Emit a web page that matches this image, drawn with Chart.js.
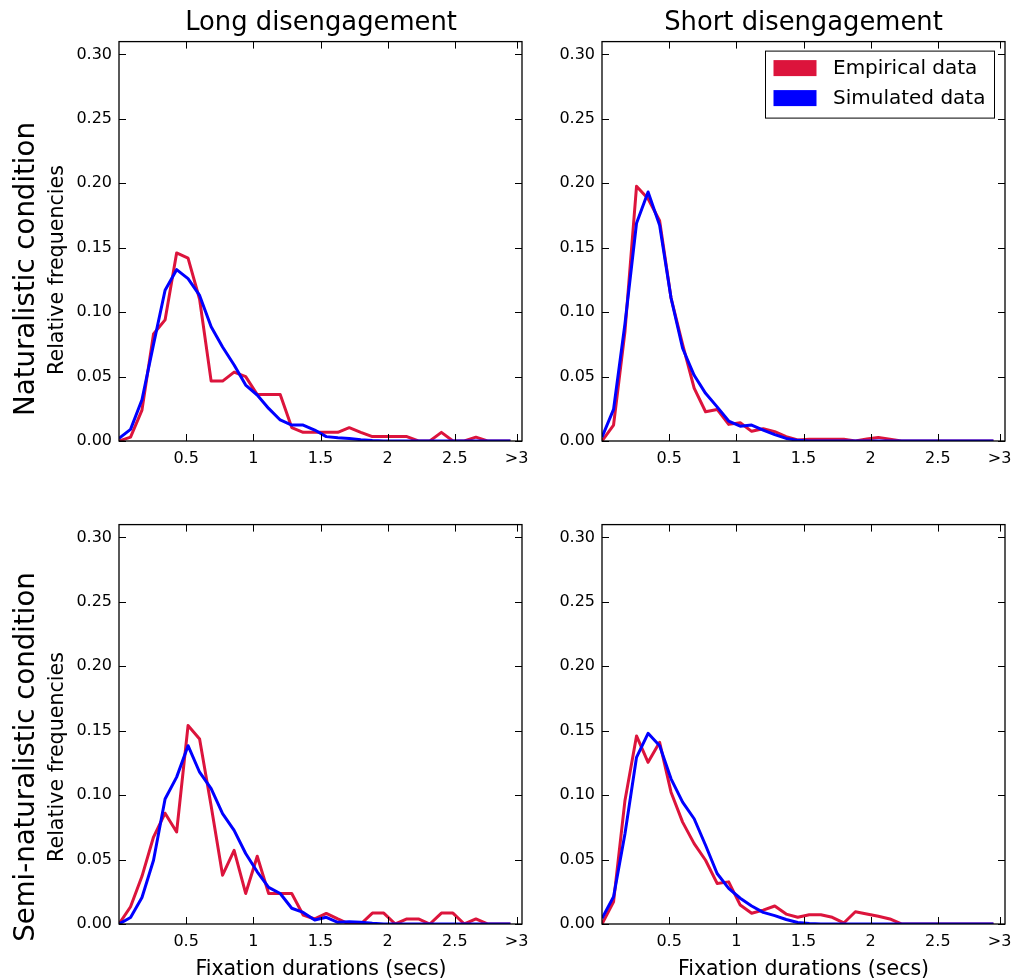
<!DOCTYPE html>
<html><head><meta charset="utf-8">
<script src="https://cdn.jsdelivr.net/npm/chart.js@4/dist/chart.umd.min.js"></script>
<style>
html,body{margin:0;padding:0;background:#fff;}
#wrap{position:relative;width:1022px;height:978px;overflow:hidden;font-family:"DejaVu Sans",sans-serif;color:#000;}
canvas{position:absolute;}
.lbl{position:absolute;white-space:nowrap;line-height:1;transform:translate(-50%,-50%);}
.rot{transform:translate(-50%,-50%) rotate(-90deg);}
</style></head><body><div id="wrap">
<canvas id="c1"></canvas><canvas id="c2"></canvas><canvas id="c3"></canvas><canvas id="c4"></canvas>
<div class="lbl" style="left:321px;top:22px;font-size:25.8px;">Long disengagement</div>
<div class="lbl" style="left:803.5px;top:22px;font-size:25.8px;">Short disengagement</div>
<div class="lbl rot" style="left:24.5px;top:269px;font-size:27.6px;">Naturalistic condition</div>
<div class="lbl rot" style="left:56.4px;top:270px;font-size:20.6px;">Relative frequencies</div>
<div class="lbl rot" style="left:24.5px;top:757px;font-size:27.6px;">Semi-naturalistic condition</div>
<div class="lbl rot" style="left:56.4px;top:757px;font-size:20.6px;">Relative frequencies</div>
<div class="lbl" style="left:321px;top:968px;font-size:20.5px;">Fixation durations (secs)</div>
<div class="lbl" style="left:803.5px;top:968px;font-size:20.5px;">Fixation durations (secs)</div>
</div>
<script>
// Bin positions (secs)
const xValues = [0, 0.086, 0.171, 0.257, 0.343, 0.429, 0.514, 0.6, 0.686, 0.771, 0.857, 0.943, 1.029, 1.114, 1.2, 1.286, 1.371, 1.457, 1.543, 1.629, 1.714, 1.8, 1.886, 1.971, 2.057, 2.143, 2.229, 2.314, 2.4, 2.486, 2.571, 2.657, 2.743, 2.829, 2.914];
const xTickValues = [0.5, 1, 1.5, 2, 2.5, 2.96];
const xTickLabels = ['0.5', '1', '1.5', '2', '2.5', '>3'];
const yTickValues = [0, 0.05, 0.10, 0.15, 0.20, 0.25, 0.30];
const yTickLabels = ['0.00', '0.05', '0.10', '0.15', '0.20', '0.25', '0.30'];

// Naturalistic / long disengagement
const natLongEmpirical = [0, 0.003, 0.024, 0.083, 0.094, 0.146, 0.142, 0.11, 0.0465, 0.0465, 0.0535, 0.05, 0.036, 0.036, 0.036, 0.0104, 0.0067, 0.0067, 0.0067, 0.0067, 0.0103, 0.0067, 0.0034, 0.0034, 0.0034, 0.0034, 0, 0, 0.0067, 0, 0, 0.003, 0, 0, 0];
const natLongSimulated = [0.002, 0.009, 0.032, 0.075, 0.117, 0.133, 0.126, 0.113, 0.0886, 0.073, 0.059, 0.0434, 0.0357, 0.0253, 0.0163, 0.0124, 0.0124, 0.0085, 0.0034, 0.0025, 0.002, 0.001, 0.0003, 0, 0, 0, 0, 0, 0, 0, 0, 0, 0, 0, 0];
// Naturalistic / short disengagement
const natShortEmpirical = [0, 0.0124, 0.085, 0.1977, 0.188, 0.171, 0.111, 0.075, 0.041, 0.0227, 0.0245, 0.0129, 0.0142, 0.0075, 0.0095, 0.0072, 0.0034, 0.0008, 0.0013, 0.0013, 0.0013, 0.0013, 0, 0.0015, 0.0028, 0.0013, 0, 0, 0, 0, 0, 0, 0, 0, 0];
const natShortSimulated = [0.003, 0.0245, 0.091, 0.169, 0.1933, 0.1674, 0.111, 0.072, 0.051, 0.037, 0.0265, 0.0155, 0.0115, 0.0124, 0.0085, 0.005, 0.002, 0.0005, 0, 0, 0, 0, 0, 0, 0, 0, 0, 0, 0, 0, 0, 0, 0, 0, 0];
// Semi-naturalistic / long disengagement
const semiLongEmpirical = [0, 0.0134, 0.037, 0.0675, 0.086, 0.0714, 0.154, 0.1436, 0.0915, 0.0379, 0.0572, 0.0237, 0.0526, 0.0237, 0.0237, 0.0237, 0.007, 0.0039, 0.0082, 0.0039, 0, 0, 0.0085, 0.0085, 0, 0.0039, 0.0039, 0, 0.0085, 0.0085, 0, 0.0039, 0, 0, 0];
const semiLongSimulated = [0, 0.005, 0.0206, 0.0495, 0.097, 0.114, 0.1384, 0.1178, 0.105, 0.0856, 0.0727, 0.0547, 0.0405, 0.0284, 0.0237, 0.0122, 0.009, 0.0031, 0.0052, 0.0013, 0.0018, 0.0013, 0.0005, 0, 0, 0, 0, 0, 0, 0, 0, 0, 0, 0, 0];
// Semi-naturalistic / short disengagement
const semiShortEmpirical = [0, 0.0173, 0.0959, 0.146, 0.1255, 0.141, 0.1023, 0.0791, 0.0624, 0.0495, 0.0315, 0.0327, 0.0147, 0.0083, 0.0108, 0.014, 0.0077, 0.0052, 0.0072, 0.0072, 0.0052, 0.0008, 0.0095, 0.0077, 0.006, 0.0039, 0, 0, 0, 0, 0, 0, 0, 0, 0];
const semiShortSimulated = [0.0044, 0.0211, 0.0701, 0.1294, 0.148, 0.1384, 0.1127, 0.0946, 0.0817, 0.0611, 0.0392, 0.0276, 0.02, 0.014, 0.009, 0.0065, 0.0035, 0.0012, 0.0003, 0, 0, 0, 0, 0, 0, 0, 0, 0, 0, 0, 0, 0, 0, 0, 0];

const RED = '#DC143C', BLUE = '#0000FF';
const FONT = 'DejaVu Sans';
const PLOT_W = 403, PLOT_H = 401;
const PADL = 80, PADT = 15, PADR = 15, PADB = 40;
const TICK = 7;

const framePlugin = {
  id: 'frameTicks',
  afterDatasetsDraw(chart) {
    const {ctx, chartArea: a, scales: {x, y}} = chart;
    ctx.save();
    ctx.strokeStyle = '#000';
    ctx.lineWidth = 1.3;
    ctx.strokeRect(a.left, a.top, a.right - a.left, a.bottom - a.top);
    ctx.lineWidth = 1;
    ctx.beginPath();
    yTickValues.forEach(v => {
      const p = Math.round(y.getPixelForValue(v)) + 0.5;
      ctx.moveTo(a.left, p); ctx.lineTo(a.left + TICK, p);
      ctx.moveTo(a.right, p); ctx.lineTo(a.right - TICK, p);
    });
    xTickValues.forEach(v => {
      const p = Math.round(x.getPixelForValue(v)) + 0.5;
      ctx.moveTo(p, a.bottom); ctx.lineTo(p, a.bottom - TICK);
      ctx.moveTo(p, a.top); ctx.lineTo(p, a.top + TICK);
    });
    ctx.stroke();
    ctx.restore();
  }
};

const legendPlugin = {
  id: 'boxLegend',
  afterDraw(chart) {
    const {ctx, chartArea: a} = chart;
    const bw = 229, bh = 67;
    const bx = a.right - 10.5 - bw, by = a.top + 9.5;
    ctx.save();
    ctx.fillStyle = '#fff';
    ctx.fillRect(bx, by, bw, bh);
    ctx.strokeStyle = '#000';
    ctx.lineWidth = 1;
    ctx.strokeRect(bx, by, bw, bh);
    const items = [...chart.data.datasets].reverse();
    items.forEach((ds, i) => {
      const cy = by + 17 + i * 30;
      ctx.fillStyle = ds.borderColor;
      ctx.fillRect(bx + 8, cy - 8, 43, 16);
      ctx.fillStyle = '#000';
      ctx.font = '20px "' + FONT + '"';
      ctx.textBaseline = 'middle';
      ctx.textAlign = 'left';
      ctx.fillText(ds.label, bx + 67.5, cy + 1);
    });
    ctx.restore();
  }
};

function panel(id, plotLeft, plotTop, emp, sim, withLegend) {
  const cv = document.getElementById(id);
  cv.width = PADL + PLOT_W + PADR;
  cv.height = PADT + PLOT_H + PADB;
  cv.style.left = (plotLeft - PADL) + 'px';
  cv.style.top = (plotTop - PADT) + 'px';
  const tickFont = {family: FONT, size: 16};
  new Chart(cv, {
    type: 'line',
    data: {
      datasets: [
        {label: 'Simulated data', data: xValues.map((x, i) => ({x, y: sim[i]})), borderColor: BLUE, backgroundColor: BLUE, borderWidth: 3, pointRadius: 0, tension: 0, fill: false, order: 0, borderJoinStyle: 'round'},
        {label: 'Empirical data', data: xValues.map((x, i) => ({x, y: emp[i]})), borderColor: RED, backgroundColor: RED, borderWidth: 3, pointRadius: 0, tension: 0, fill: false, order: 1, borderJoinStyle: 'round'}
      ]
    },
    options: {
      responsive: false, animation: false, devicePixelRatio: 1,
      layout: {padding: {left: 0, top: PADT, right: PADR, bottom: 0}},
      plugins: {legend: {display: false}, tooltip: {enabled: false}, title: {display: false}},
      scales: {
        x: {
          type: 'linear', min: 0, max: 3,
          grid: {display: false, drawTicks: false}, border: {display: false},
          afterBuildTicks: s => { s.ticks = xTickValues.map(v => ({value: v})); },
          afterFit: s => { s.height = PADB; },
          ticks: {autoSkip: false, maxRotation: 0, minRotation: 0, padding: 8, font: tickFont, color: '#000',
                  callback: (v, i) => xTickLabels[i]}
        },
        y: {
          type: 'linear', min: 0, max: 0.31,
          grid: {display: false, drawTicks: false}, border: {display: false},
          afterBuildTicks: s => { s.ticks = yTickValues.map(v => ({value: v})); },
          afterFit: s => { s.width = PADL; },
          ticks: {autoSkip: false, padding: 7, font: tickFont, color: '#000',
                  callback: (v, i) => yTickLabels[i]}
        }
      }
    },
    plugins: withLegend ? [framePlugin, legendPlugin] : [framePlugin]
  });
}

panel('c1', 119, 40, natLongEmpirical, natLongSimulated, false);
panel('c2', 602, 40, natShortEmpirical, natShortSimulated, true);
panel('c3', 119, 523, semiLongEmpirical, semiLongSimulated, false);
panel('c4', 602, 523, semiShortEmpirical, semiShortSimulated, false);
</script>
</body></html>
